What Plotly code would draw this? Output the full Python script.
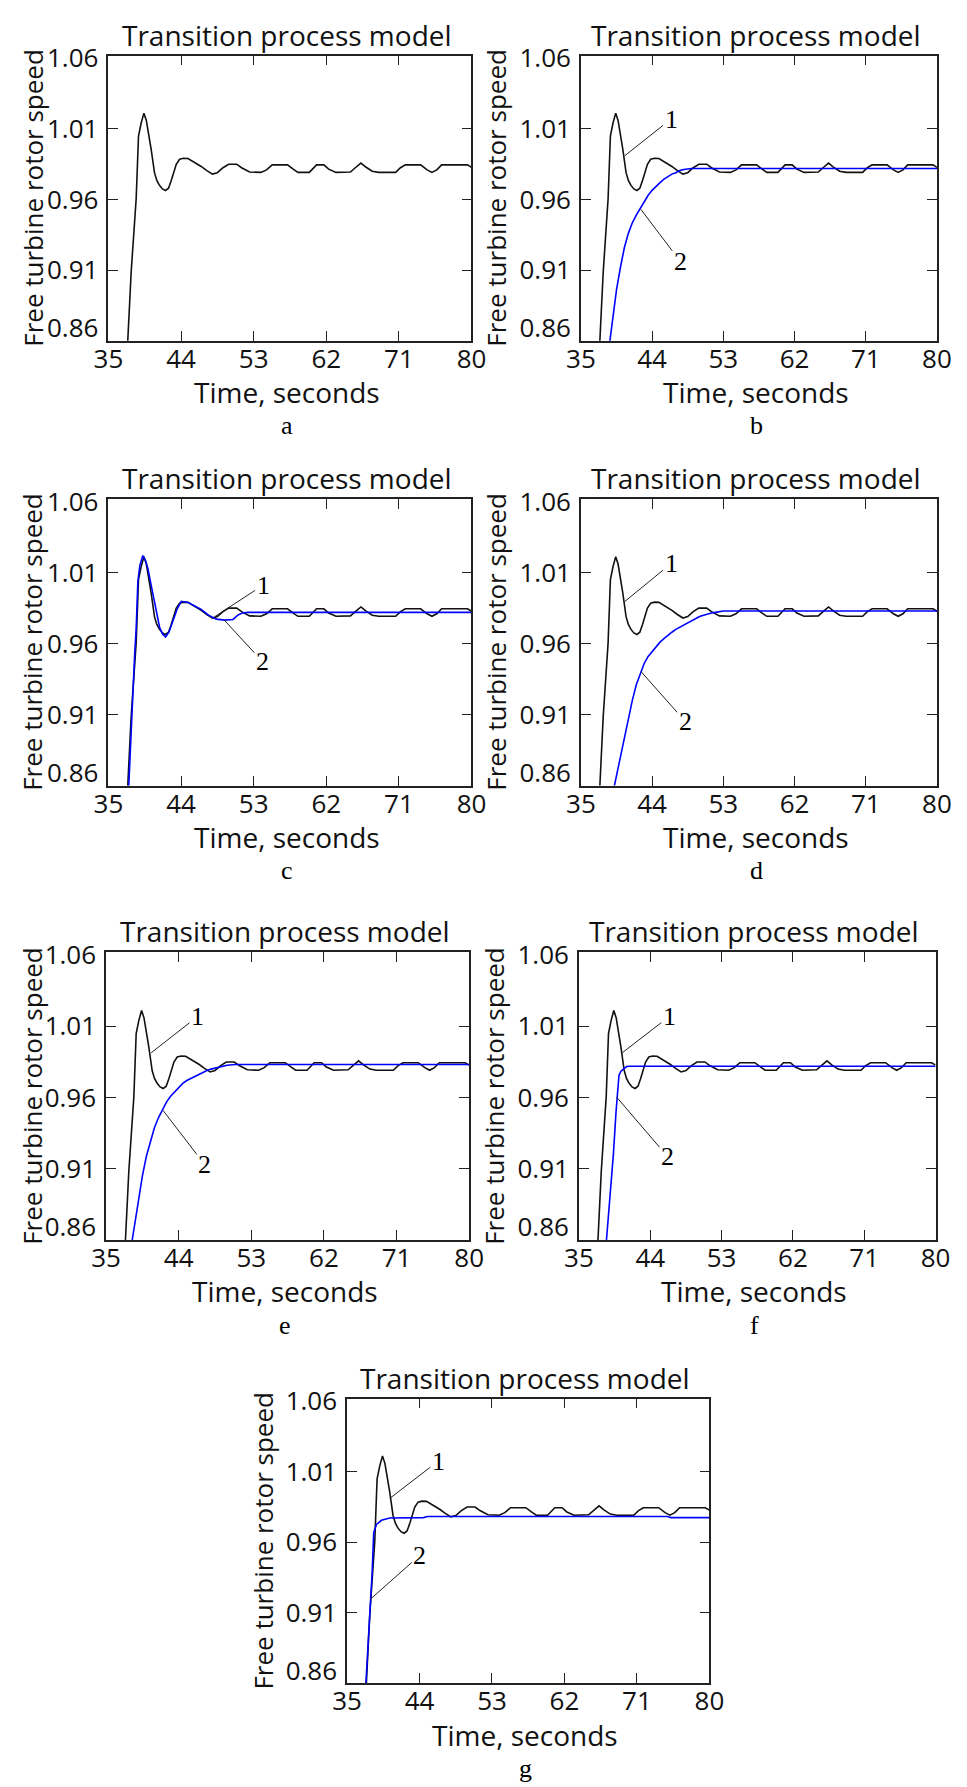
import plotly.graph_objects as go

W, H = 967, 1787

# ---------------- data ----------------
x_ticks = [35, 44, 53, 62, 71, 80]
y_tick_labels = ["0.86", "0.91", "0.96", "1.01", "1.06"]
y_label_pos = [0.869, 0.91, 0.96, 1.01, 1.06]
y_tick_marks = [0.91, 0.96, 1.01]

# curve 1 (same in all panels)
t1 = [37.25, 37.4, 37.82, 38.15, 38.44, 38.6, 38.73, 39.06, 39.4, 39.7, 39.9, 40.3, 40.71,
      41.0, 41.33, 41.7, 42.08, 42.45, 42.79, 43.1, 43.41, 43.82, 44.3, 44.86, 45.7, 46.5,
      47.2, 47.9, 48.5, 49.2, 49.9, 50.9, 51.5, 52.5, 53.9, 54.6, 55.3, 57.2, 57.9, 58.5,
      59.9, 60.4, 60.8, 61.7, 62.3, 63.2, 65.0, 65.6, 66.3, 66.9, 67.7, 68.5, 70.6, 71.2,
      71.8, 73.7, 74.5, 75.1, 75.7, 76.3, 79.5, 80.0]
v1 = [0.85, 0.86, 0.9085, 0.937, 0.9605, 0.985, 1.005, 1.0142, 1.0212, 1.016, 1.0095, 0.9955, 0.979,
      0.9735, 0.970, 0.9675, 0.9664, 0.968, 0.9734, 0.979, 0.985, 0.9885, 0.9892, 0.989, 0.9862, 0.9834,
      0.9805, 0.978, 0.979, 0.9825, 0.985, 0.985, 0.9825, 0.9795, 0.9792, 0.981, 0.9845, 0.9845, 0.9815, 0.9792,
      0.9792, 0.9825, 0.9845, 0.9845, 0.9815, 0.9792, 0.9795, 0.9825, 0.9858, 0.983, 0.980, 0.9792, 0.9792, 0.9825,
      0.9845, 0.9845, 0.981, 0.9792, 0.981, 0.9845, 0.9845, 0.9828]

# curve 2 per panel
t2_b = [38.6, 39.0, 39.5, 40.0, 40.5, 41.0, 41.5, 42.0, 42.5, 43.0, 43.5, 44.0, 44.5, 45.0, 45.5,
        46.0, 46.5, 47.0, 47.5, 48.0, 48.5, 49.0, 80.0]
v2_b = [0.857, 0.875, 0.896, 0.912, 0.926, 0.936, 0.9435, 0.949, 0.9535, 0.959, 0.963, 0.9665, 0.9695,
        0.972, 0.9745, 0.9765, 0.978, 0.979, 0.9805, 0.9813, 0.9818, 0.982, 0.982]
t2_c = [37.5, 37.75, 38.03, 38.25, 38.44, 38.65, 38.9, 39.27, 39.6, 39.9, 40.2, 40.52, 40.9, 41.34,
        41.7, 42.09, 42.5, 43.0, 43.5, 44.03, 44.86, 45.7, 46.5, 47.4, 48.38, 49.4, 50.45, 51.07,
        51.6, 52.3, 80.0]
v2_c = [0.857, 0.893, 0.930, 0.952, 0.9704, 1.0036, 1.015, 1.022, 1.0185, 1.0128, 1.004, 0.9944, 0.982,
        0.9715, 0.9668, 0.9646, 0.968, 0.976, 0.984, 0.9898, 0.989, 0.9865, 0.9841, 0.980, 0.9772,
        0.9765, 0.977, 0.9802, 0.9815, 0.982, 0.982]
t2_d = [39.2, 39.5, 40.0, 40.5, 41.0, 41.5, 42.0, 42.5, 43.0, 43.5, 44.0, 44.5, 45.0, 45.5, 46.0,
        46.5, 47.0, 47.5, 48.0, 48.5, 49.0, 49.5, 50.0, 50.5, 51.0, 51.5, 52.0, 53.0, 80.0]
v2_d = [0.859, 0.867, 0.880, 0.894, 0.907, 0.920, 0.931, 0.939, 0.946, 0.951, 0.9545, 0.958, 0.961,
        0.9635, 0.966, 0.968, 0.970, 0.9715, 0.973, 0.975, 0.9765, 0.978, 0.979, 0.980, 0.981, 0.9815,
        0.982, 0.983, 0.983]
t2_e = [38.1, 38.5, 39.0, 39.5, 40.0, 40.5, 41.0, 41.5, 42.0, 42.5, 43.0, 43.5, 44.0, 44.5, 45.0,
        45.5, 46.0, 46.5, 47.0, 47.5, 48.0, 48.5, 49.0, 49.5, 50.0, 51.0, 80.0]
v2_e = [0.855, 0.870, 0.889, 0.905, 0.919, 0.930, 0.939, 0.946, 0.952, 0.957, 0.961, 0.964, 0.967,
        0.970, 0.972, 0.9735, 0.975, 0.9765, 0.978, 0.979, 0.980, 0.9807, 0.9815, 0.982, 0.9827,
        0.9832, 0.9832]
t2_f = [38.4, 38.52, 38.94, 39.35, 39.68, 39.84, 40.05, 40.3, 40.59, 41.0, 41.4, 80.0]
v2_f = [0.855, 0.863, 0.891, 0.9205, 0.950, 0.964, 0.9756, 0.9785, 0.980, 0.9818, 0.982, 0.982]
t2_g = [37.3, 37.4, 37.69, 37.94, 38.12, 38.31, 38.65, 39.27, 40.3, 44.5, 45.0, 74.8, 75.2, 80.0]
v2_g = [0.856, 0.8655, 0.891, 0.921, 0.939, 0.9668, 0.9727, 0.9756, 0.9772, 0.9775, 0.9783, 0.9783,
        0.9775, 0.9775]

panel_letters = ["a", "b", "c", "d", "e", "f", "g"]
curve2 = [None, (t2_b, v2_b), (t2_c, v2_c), (t2_d, v2_d), (t2_e, v2_e), (t2_f, v2_f), (t2_g, v2_g)]

title_text = "Transition process model"
x_title_text = "Time, seconds"
y_title_text = "Free turbine rotor speed"

# leader labels: (label, point t, point v, text t, text v)
leaders = [
    [],
    [("1", 40.52, 0.9909, 46.39, 1.017), ("2", 42.58, 0.9530, 47.55, 0.9162)],
    [("1", 48.17, 0.9789, 54.18, 1.0012), ("2", 49.41, 0.9762, 54.09, 0.9474)],
    [("1", 40.52, 0.9895, 46.39, 1.0163), ("2", 42.58, 0.9404, 48.17, 0.9053)],
    [("1", 40.60, 0.9915, 46.33, 1.0169), ("2", 42.06, 0.9510, 47.24, 0.9128)],
    [("1", 40.47, 0.9915, 46.39, 1.0169), ("2", 39.76, 0.9603, 46.18, 0.9186)],
    [("1", 40.30, 0.9911, 46.32, 1.0176), ("2", 37.90, 0.9196, 44.03, 0.9507)],
]

# ---------------- layout geometry (figure pixels) ----------------
frames = [  # x0, x1, y0(top), y1(bottom)
    (96.4, 471.1, 40.0, 328.3),
    (584.0, 951.5, 40.0, 328.3),
    (96.4, 471.1, 488.2, 778.3),
    (584.0, 951.5, 488.2, 778.3),
    (94.0, 468.7, 946.9, 1237.9),
    (582.0, 950.0, 946.9, 1237.9),
    (342.7, 716.6, 1398.2, 1686.0),
]

TXT = "#111111"
SANS = "Open Sans"
SERIF = "Liberation Serif"
FS = 26

fig = go.Figure()
layout = dict(
    width=W, height=H, margin=dict(l=0, r=0, t=0, b=0, pad=0), autosize=False,
    paper_bgcolor="white", plot_bgcolor="white", showlegend=False, annotations=[],
)

for i, (x0, x1, y0, y1) in enumerate(frames):
    n = i + 1
    xs = "" if n == 1 else str(n)
    xa, ya = "x" + xs, "y" + xs
    ov = "y" + str(n + 7)
    cxp = (x0 + x1) / 2 - 3

    fig.add_trace(go.Scatter(x=t1, y=v1, mode="lines", xaxis=xa, yaxis=ya,
                             line=dict(color="#111111", width=1.6), hoverinfo="skip"))
    if curve2[i] is not None:
        tt, vv = curve2[i]
        fig.add_trace(go.Scatter(x=tt, y=vv, mode="lines", xaxis=xa, yaxis=ya,
                                 line=dict(color="#0000ff", width=1.6), hoverinfo="skip"))
    fig.add_trace(go.Scatter(x=[], y=[], xaxis=xa, yaxis=ov, hoverinfo="skip"))

    layout["xaxis" + xs] = dict(
        domain=[x0 / W, x1 / W], anchor=ya, range=[35, 80], tickmode="array",
        tickvals=x_ticks, ticktext=[str(v) for v in x_ticks],
        ticks="inside", ticklen=10, tickwidth=1.3, tickcolor="#222",
        showline=True, linecolor="#222", linewidth=1.6, mirror="ticks",
        showgrid=False, zeroline=False,
        tickfont=dict(family=SANS, size=FS, color=TXT), ticklabelstandoff=-6)
    layout["yaxis" + xs] = dict(
        domain=[1 - y1 / H, 1 - y0 / H], anchor=xa, range=[0.86, 1.062], tickmode="array",
        tickvals=y_label_pos, ticktext=y_tick_labels, ticks="",
        showline=True, linecolor="#222", linewidth=1.6, mirror=True,
        showgrid=False, zeroline=False,
        tickfont=dict(family=SANS, size=FS, color=TXT), ticklabelstandoff=3)
    layout["yaxis" + str(n + 7)] = dict(
        overlaying=ya, anchor=xa, range=[0.86, 1.062], tickmode="array",
        tickvals=y_tick_marks, ticks="inside", ticklen=10, tickwidth=1.3, tickcolor="#222",
        showticklabels=False, showline=True, linecolor="#222", linewidth=1.6, mirror="ticks",
        showgrid=False, zeroline=False)

    # panel title
    layout["annotations"].append(dict(
        text=title_text, xref="paper", yref="paper", x=cxp / W, y=1 - y0 / H,
        xanchor="center", yanchor="bottom", yshift=1, borderpad=0, showarrow=False,
        font=dict(family=SANS, size=28, color=TXT)))
    # x axis title
    layout["annotations"].append(dict(
        text=x_title_text, xref="paper", yref="paper", x=cxp / W, y=1 - (y1 + 52) / H,
        xanchor="center", yanchor="middle", borderpad=0, showarrow=False,
        font=dict(family=SANS, size=28, color=TXT)))
    # y axis title
    layout["annotations"].append(dict(
        text=y_title_text, xref="paper", yref="paper", textangle=-90,
        x=max(x0 - 87.0, 18.2) / W, y=1 - (y0 + y1) / 2 / H, xanchor="center",
        yanchor="middle", borderpad=0, showarrow=False,
        font=dict(family=SANS, size=26, color=TXT)))
    # caption letter
    layout["annotations"].append(dict(
        text=panel_letters[i], xref="paper", yref="paper", x=cxp / W, y=1 - (y1 + 86) / H,
        xanchor="center", yanchor="middle", borderpad=0, showarrow=False,
        font=dict(family=SERIF, size=FS, color="#000")))
    # leader lines with labels
    for lab, pt, pv, tt_, tv in leaders[i]:
        layout["annotations"].append(dict(
            text=lab, x=pt, y=pv, xref=xa, yref=ya, ax=tt_, ay=tv, axref=xa, ayref=ya,
            showarrow=True, arrowhead=0, arrowwidth=1, arrowcolor="#222", standoff=0,
            font=dict(family=SERIF, size=FS, color="#000")))

fig.update_layout(**layout)
fig.write_html("out.html")
